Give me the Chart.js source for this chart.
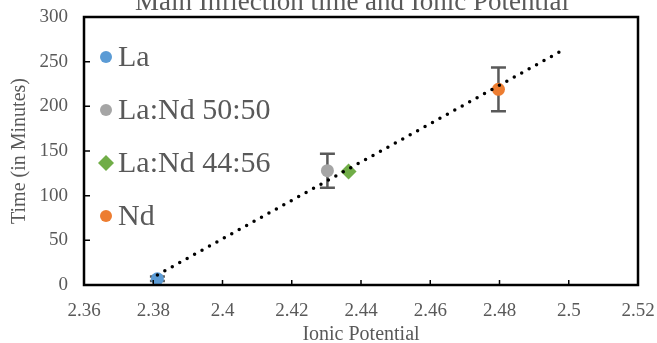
<!DOCTYPE html>
<html>
<head>
<meta charset="utf-8">
<script src="https://cdn.jsdelivr.net/npm/chart.js@4.4.1/dist/chart.umd.min.js"></script>
<style>
  html, body { margin: 0; padding: 0; background: #fff; }
  #wrap { width: 657px; height: 343px; position: relative; }
</style>
</head>
<body>
<div id="wrap"><canvas id="chart"></canvas></div>
<script>
"use strict";

// measured samples
const seriesNames = ['La', 'La:Nd 50:50', 'La:Nd 44:56', 'Nd'];
const ionicPotential = [2.3812, 2.4303, 2.4364, 2.4797];
const inflectionTime = [7, 128, 127, 219];
const timeError = [2.5, 19, null, 24.5];
const seriesColors = ['#5B9BD5', '#A5A5A5', '#70AD47', '#ED7D31'];
const seriesShapes = ['circle', 'circle', 'rectRot', 'circle'];

// axes
const xTicks = [2.36, 2.38, 2.4, 2.42, 2.44, 2.46, 2.48, 2.5, 2.52];
const yTicks = [0, 50, 100, 150, 200, 250, 300];
const trendRange = [2.3812, 2.499];

const SERIF = "'Liberation Serif', 'Times New Roman', serif";
const GREY_TEXT = '#595959';

// least squares fit over the four samples, like a spreadsheet trendline
function linearFit(xs, ys) {
    const n = xs.length;
    const mx = xs.reduce((a, b) => a + b, 0) / n;
    const my = ys.reduce((a, b) => a + b, 0) / n;
    let sxy = 0, sxx = 0;
    for (let i = 0; i < n; i++) {
        sxy += (xs[i] - mx) * (ys[i] - my);
        sxx += (xs[i] - mx) * (xs[i] - mx);
    }
    const slope = sxy / sxx;
    return x => my + slope * (x - mx);
}
const fit = linearFit(ionicPotential, inflectionTime);

const datasets = seriesNames.map((name, i) => ({
    label: name,
    data: [{ x: ionicPotential[i], y: inflectionTime[i] }],
    backgroundColor: seriesColors[i],
    borderColor: seriesColors[i],
    pointStyle: seriesShapes[i],
    pointRadius: seriesShapes[i] === 'rectRot' ? 8 : 6.5,
    pointBorderWidth: 0,
    showLine: false,
    order: 1
}));
datasets.push({
    label: 'trend',
    data: trendRange.map(x => ({ x: x, y: fit(x) })),
    showLine: true,
    borderColor: '#000',
    borderWidth: 3.5,
    borderDash: [0, 8.5],
    borderCapStyle: 'round',
    pointRadius: 0,
    order: 0
});

// grey error bars behind the markers
const errorBars = {
    id: 'errorBars',
    beforeDatasetsDraw(chart) {
        const { ctx, scales: { x, y } } = chart;
        ctx.save();
        ctx.strokeStyle = GREY_TEXT;
        ctx.lineWidth = 2.5;
        timeError.forEach((err, i) => {
            if (err == null) return;
            const px = x.getPixelForValue(ionicPotential[i]);
            const top = y.getPixelForValue(inflectionTime[i] + err);
            const bot = y.getPixelForValue(inflectionTime[i] - err);
            ctx.beginPath();
            ctx.moveTo(px, top); ctx.lineTo(px, bot);
            ctx.moveTo(px - 7.5, top); ctx.lineTo(px + 7.5, top);
            ctx.moveTo(px - 7.5, bot); ctx.lineTo(px + 7.5, bot);
            ctx.stroke();
        });
        ctx.restore();
    }
};

// frame, inward ticks, legend box and title
const decorations = {
    id: 'decorations',
    afterDraw(chart) {
        const { ctx, chartArea: a, scales: { x, y } } = chart;
        ctx.save();
        ctx.strokeStyle = '#000';
        ctx.lineWidth = 1.5;
        ctx.beginPath();
        xTicks.forEach(v => {
            const px = x.getPixelForValue(v);
            ctx.moveTo(px, a.bottom); ctx.lineTo(px, a.bottom - 5);
        });
        yTicks.forEach(v => {
            const py = y.getPixelForValue(v);
            ctx.moveTo(a.left, py); ctx.lineTo(a.left + 6, py);
        });
        ctx.stroke();
        ctx.lineWidth = 2.5;
        ctx.strokeRect(a.left, a.top, a.right - a.left, a.bottom - a.top);

        // legend
        ctx.font = `30px ${SERIF}`;
        ctx.textBaseline = 'middle';
        ctx.fillStyle = GREY_TEXT;
        seriesNames.forEach((name, i) => {
            const cy = a.top + 40 + i * 53;
            const cx = a.left + 22;
            ctx.save();
            ctx.fillStyle = seriesColors[i];
            ctx.beginPath();
            if (seriesShapes[i] === 'rectRot') {
                ctx.moveTo(cx, cy - 8); ctx.lineTo(cx + 8, cy);
                ctx.lineTo(cx, cy + 8); ctx.lineTo(cx - 8, cy);
                ctx.closePath();
            } else {
                ctx.arc(cx, cy, 6, 0, Math.PI * 2);
            }
            ctx.fill();
            ctx.restore();
            ctx.fillText(name, cx + 12, cy + 1);
        });

        // title runs off the top edge
        ctx.font = `27px ${SERIF}`;
        ctx.textAlign = 'center';
        ctx.textBaseline = 'alphabetic';
        ctx.fillText('Main Inflection time and Ionic Potential', 352, 9.5);
        ctx.restore();
    }
};

// fixed box sizes, no extra room for overhanging labels
function fixBox(w, h) {
    return scale => {
        if (w != null) scale.width = w;
        if (h != null) scale.height = h;
        scale.paddingLeft = scale.paddingRight = scale.paddingTop = scale.paddingBottom = 0;
    };
}

new Chart(document.getElementById('chart'), {
    type: 'scatter',
    data: { datasets },
    options: {
        responsive: true,
        maintainAspectRatio: false,
        animation: false,
        layout: { padding: { top: 17, right: 19, left: 0, bottom: 0 } },
        plugins: { legend: { display: false }, tooltip: { enabled: false }, title: { display: false } },
        scales: {
            x: {
                type: 'linear', min: 2.36, max: 2.52,
                afterFit: fixBox(null, 58),
                afterBuildTicks(scale) { scale.ticks = xTicks.map(v => ({ value: v })); },
                grid: { display: false, drawTicks: false }, border: { display: false },
                ticks: { padding: 15, color: GREY_TEXT, font: { family: SERIF, size: 19 }, callback: v => String(Math.round(v * 100) / 100) },
                title: { display: true, text: 'Ionic Potential', color: GREY_TEXT, font: { family: SERIF, size: 20 }, padding: { top: 0, bottom: -4 } }
            },
            y: {
                type: 'linear', min: 0, max: 300,
                afterFit: fixBox(84, null),
                afterBuildTicks(scale) { scale.ticks = yTicks.map(v => ({ value: v })); },
                grid: { display: false, drawTicks: false }, border: { display: false },
                ticks: { padding: 16, color: GREY_TEXT, font: { family: SERIF, size: 19 } },
                title: { display: true, text: 'Time (in Minutes)', color: GREY_TEXT, font: { family: SERIF, size: 20 }, padding: { top: 8, bottom: 0 } }
            }
        }
    },
    plugins: [errorBars, decorations]
});
</script>
</body>
</html>
